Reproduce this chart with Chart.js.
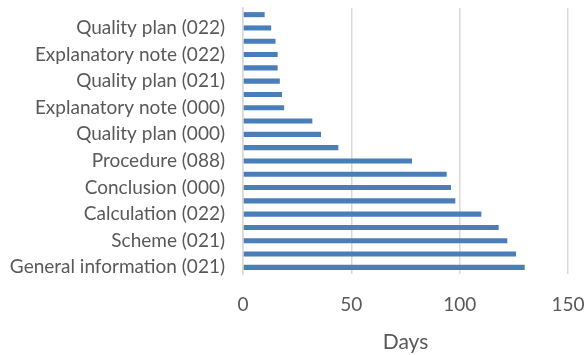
<!DOCTYPE html>
<html>
<head>
<meta charset="utf-8">
<script src="https://cdn.jsdelivr.net/npm/chart.js@4.4.1/dist/chart.umd.min.js"></script>
<style>
  html, body { margin: 0; padding: 0; background: #ffffff; }
  #wrap { width: 587px; height: 355px; }
</style>
</head>
<body>
<div id="wrap"><canvas id="chart" width="587" height="355"></canvas></div>
<script>
// Document categories, listed from the bottom bar upward; only every other name is labelled
const categories = [
  'General information (021)', '',
  'Scheme (021)', '',
  'Calculation (022)', '',
  'Conclusion (000)', '',
  'Procedure (088)', '',
  'Quality plan (000)', '',
  'Explanatory note (000)', '',
  'Quality plan (021)', '',
  'Explanatory note (022)', '',
  'Quality plan (022)', ''
];
// Duration of each document, in days
const days = [130, 126, 122, 118, 110, 98, 96, 94, 78, 44, 36, 32, 19, 18, 17, 16, 16, 15, 13, 10];
const dayTicks = [0, 50, 100, 150];
const axisTitle = 'Days';

const FONT = 'Lato, "Open Sans", sans-serif';
const TEXT = '#595959';
const GRID = '#d9d9d9';

new Chart(document.getElementById('chart'), {
  type: 'bar',
  data: {
    labels: categories,
    datasets: [{
      data: days,
      backgroundColor: '#4a7ebb',
      borderWidth: 0,
      categoryPercentage: 1,
      barPercentage: 0.38
    }]
  },
  options: {
    indexAxis: 'y',
    responsive: false,
    animation: false,
    layout: { padding: { top: 8, right: 19, bottom: 0, left: 0 } },
    plugins: { legend: { display: false }, tooltip: { enabled: false } },
    scales: {
      x: {
        min: dayTicks[0],
        max: dayTicks[dayTicks.length - 1],
        afterBuildTicks: (axis) => { axis.ticks = dayTicks.map(v => ({ value: v })); },
        grid: { color: GRID, lineWidth: 1.5, drawTicks: false },
        border: { display: false },
        ticks: { color: TEXT, font: { family: FONT, size: 19 }, padding: 19 },
        title: { display: true, text: axisTitle, color: TEXT, font: { family: FONT, size: 21 }, padding: { top: 4, bottom: 0 } },
        afterFit: (axis) => { axis.height = 81; axis.paddingLeft = 0; axis.paddingRight = 0; }
      },
      y: {
        reverse: true,
        grid: { display: false, drawTicks: false },
        border: { display: true, color: GRID, width: 1.5 },
        ticks: { color: TEXT, font: { family: FONT, size: 19 }, autoSkip: false, padding: 18 },
        afterFit: (axis) => { axis.width = 243; axis.paddingTop = 0; axis.paddingBottom = 0; }
      }
    }
  }
});
</script>
</body>
</html>
